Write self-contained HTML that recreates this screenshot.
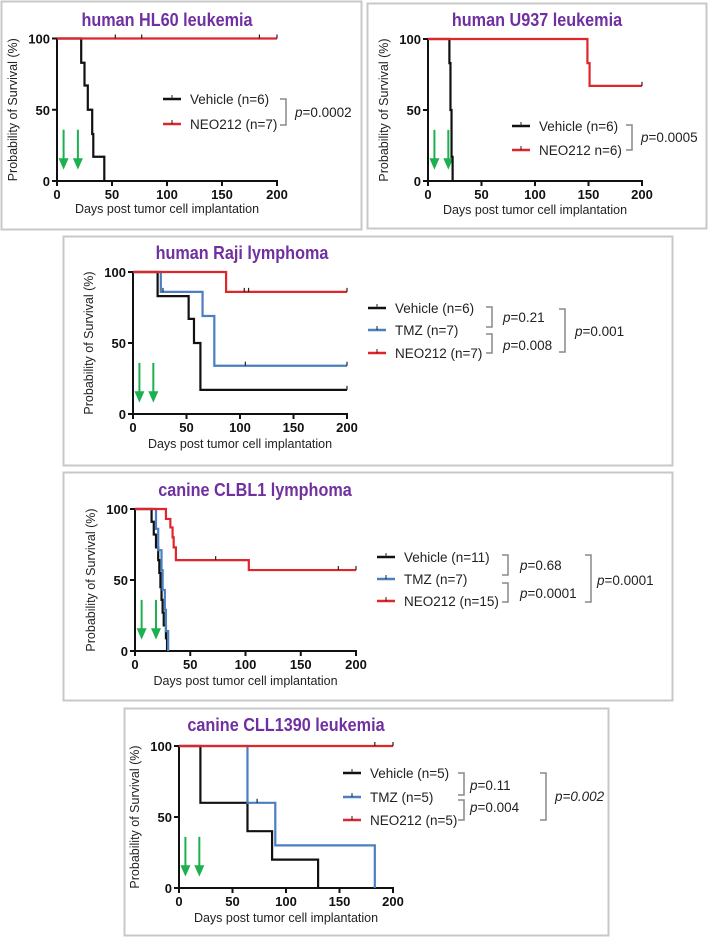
<!DOCTYPE html>
<html><head><meta charset="utf-8">
<style>
html,body{margin:0;padding:0;background:#fff;}
svg{display:block;font-family:"Liberation Sans",Arial,sans-serif;}
</style></head>
<body>
<svg id="fig" width="709" height="937" viewBox="0 0 709 937" xmlns="http://www.w3.org/2000/svg"></svg>
<script>
// ---- data (days, survival %) ----
const hl60Vehicle = [[0,100],[22,83],[25,67],[28,50],[32,33],[33,17],[43,0]];
const hl60Neo = [[0,100],[200,100]];
const hl60NeoCensor = [[53,100],[77,100],[184,100],[200,100]];
const hl60VehicleCensor = [];

const u937Vehicle = [[0,100],[20,83],[21,50],[22,17],[23,0]];
const u937Neo = [[0,100],[149,83],[151,67],[200,67]];
const u937NeoCensor = [[200,67]];

const rajiVehicle = [[0,100],[23,83],[52,67],[57,50],[63,17],[200,17]];
const rajiVehicleCensor = [[200,17]];
const rajiTmz = [[0,100],[26,86],[65,69],[76,34],[200,34]];
const rajiTmzCensor = [[28,86],[105,34],[200,34]];
const rajiNeo = [[0,100],[87,86],[200,86]];
const rajiNeoCensor = [[104,86],[108,86],[200,86]];

const clblVehicle = [[0,100],[15,91],[17,82],[19,73],[21,64],[22,55],[23,45],[24,36],[25,27],[26,18],[28,9],[29,0]];
const clblTmz = [[0,100],[19,86],[21,71],[24,57],[25,43],[27,29],[28,14],[30,0]];
const clblNeo = [[0,100],[28,93],[32,87],[34,80],[35,73],[37,64],[103,57],[200,57]];
const clblNeoCensor = [[73,64],[184,57],[200,57]];

const cllVehicle = [[0,100],[20,60],[64,40],[87,20],[130,0]];
const cllTmz = [[0,100],[64,60],[90,30],[183,0]];
const cllTmzCensor = [[73,60]];
const cllNeo = [[0,100],[200,100]];
const cllNeoCensor = [[183,100],[200,100]];

const arrowDays = [6, 19];
const xTicks = [0,50,100,150,200];
const yTicks = [0,50,100];

const BLACK='#111', BLUE='#4a7fc1', RED='#e0262b', GREEN='#1db04f', PURPLE='#7030a0';
const NS='http://www.w3.org/2000/svg';
const svg=document.getElementById('fig');
function mk(tag,attrs,parent,text){const e=document.createElementNS(NS,tag);for(const k in attrs)e.setAttribute(k,attrs[k]);if(text!==undefined)e.textContent=text;(parent||svg).appendChild(e);return e;}

function panel(p){
  const g=mk('g',{});
  
  
  const box=mk('rect',{x:p.box[0]+0.5,y:p.box[1]+0.5,width:p.box[2],height:p.box[3],fill:'none',stroke:'#c8c8c8','stroke-width':2},g);
  
  
  const sx=d=>p.x0+(p.x1-p.x0)*d/200;
  const sy=v=>p.y0+(p.y1-p.y0)*v/100;
  const t=mk('text',{x:p.titleX,y:p.titleY,'text-anchor':'middle','font-size':18,'font-weight':'bold',fill:PURPLE},g,p.title);
  
  
  try{const w=t.getComputedTextLength();if(w>0){t.setAttribute('textLength',(w*0.9).toFixed(1));t.setAttribute('lengthAdjust','spacingAndGlyphs');}}catch(e){}
  // axes
  const ax=mk('g',{stroke:'#111','stroke-width':2,fill:'none'},g);
  
  
  mk('line',{x1:p.x0,y1:sy(100),x2:p.x0,y2:p.y0+1},ax);
  mk('line',{x1:p.x0-1,y1:p.y0,x2:sx(200)+1,y2:p.y0},ax);
  xTicks.forEach(v=>{
    mk('line',{x1:sx(v),y1:p.y0,x2:sx(v),y2:p.y0+5},ax);
    const l=mk('text',{x:sx(v),y:p.y0+18,'text-anchor':'middle','font-size':13,'font-weight':'bold',fill:'#111',stroke:'none'},g,String(v));
    
    
  });
  yTicks.forEach(v=>{
    mk('line',{x1:p.x0-5,y1:sy(v),x2:p.x0,y2:sy(v)},ax);
    const l=mk('text',{x:p.x0-7,y:sy(v)+5,'text-anchor':'end','font-size':13,'font-weight':'bold',fill:'#111'},g,String(v));
    
    
  });
  const xl=mk('text',{x:(p.x0+sx(200))/2,y:p.xlabelY,'text-anchor':'middle','font-size':12.5,fill:'#222'},g,'Days post tumor cell implantation');
  
  
  const ycx=p.x0-40, ycy=(sy(0)+sy(100))/2;
  const yl=mk('text',{x:ycx,y:ycy,'text-anchor':'middle','font-size':12.5,fill:'#222',transform:`rotate(-90 ${ycx} ${ycy})`},g,'Probability of Survival (%)');
  
  
  // arrows
  arrowDays.forEach(d=>{
    const a=mk('g',{},g);
    
    
    mk('line',{x1:sx(d),y1:sy(36),x2:sx(d),y2:sy(14),stroke:GREEN,'stroke-width':2},a);
    mk('polygon',{points:`${sx(d)-5},${sy(16)} ${sx(d)+5},${sy(16)} ${sx(d)},${sy(8)}`,fill:GREEN},a);
  });
  // series
  p.series.forEach(s=>{
    let d='';
    s.pts.forEach((pt,i)=>{
      if(i===0){d+=`M${sx(pt[0])},${sy(pt[1])}`;}
      else{d+=` H${sx(pt[0])} V${sy(pt[1])}`;}
    });
    const path=mk('path',{d:d,fill:'none',stroke:s.color,'stroke-width':2.2},g);
    
    
    (s.censor||[]).forEach(c=>{
      const cm=mk('line',{x1:sx(c[0]),y1:sy(c[1])-4,x2:sx(c[0]),y2:sy(c[1]),stroke:'#222','stroke-width':1.2},g);
      
      
    });
  });
  // legend
  p.legend.forEach(L=>{
    const lg=mk('g',{},g);
    
    
    mk('line',{x1:L.x,y1:L.y,x2:L.x+18,y2:L.y,stroke:L.color,'stroke-width':2.5},lg);
    mk('line',{x1:L.x+9,y1:L.y-4,x2:L.x+9,y2:L.y,stroke:'#222','stroke-width':1},lg);
    mk('text',{x:L.x+27,y:L.y+5,'font-size':13.5,fill:'#222'},lg,L.text);
  });
  p.brackets.forEach(b=>{
    const br=mk('path',{d:`M${b.x},${b.y1} H${b.x+6} V${b.y2} H${b.x}`,fill:'none',stroke:'#888','stroke-width':1.5},g);
    
    
  });
  p.pvals.forEach(v=>{
    const tx=mk('text',{x:v.x,y:v.y+5,'font-size':13.5,fill:'#222'},g);
    
    
    mk('tspan',{'font-style':'italic'},tx,'p');
    mk('tspan',{'font-style':v.italic?'italic':'normal'},tx,'='+v.val);
  });
}

panel({name:'hl60-panel',box:[1,1,360,228],x0:57,x1:277,y0:181,y1:38.5,title:'human HL60 leukemia',titleX:167,titleY:26,xlabelY:213,
  series:[{id:'vehicle',pts:hl60Vehicle,color:BLACK,censor:hl60VehicleCensor},{id:'neo212',pts:hl60Neo,color:RED,censor:hl60NeoCensor}],
  legend:[{x:163,y:99,color:BLACK,text:'Vehicle (n=6)'},{x:163,y:124,color:RED,text:'NEO212 (n=7)'}],
  brackets:[{x:280,y1:99,y2:125}],pvals:[{x:295,y:112,val:'0.0002'}]});

panel({name:'u937-panel',box:[367,3,339,225],x0:428,x1:642,y0:181,y1:39,title:'human U937 leukemia',titleX:537,titleY:26,xlabelY:214,
  series:[{id:'vehicle',pts:u937Vehicle,color:BLACK},{id:'neo212',pts:u937Neo,color:RED,censor:u937NeoCensor}],
  legend:[{x:512,y:126,color:BLACK,text:'Vehicle (n=6)'},{x:512,y:150,color:RED,text:'NEO212 n=6)'}],
  brackets:[{x:626,y1:125,y2:150}],pvals:[{x:641,y:137,val:'0.0005'}]});

panel({name:'raji-panel',box:[63,236,609,229],x0:133,x1:347,y0:414,y1:272,title:'human Raji lymphoma',titleX:242,titleY:259,xlabelY:448,
  series:[{id:'vehicle',pts:rajiVehicle,color:BLACK,censor:rajiVehicleCensor},{id:'tmz',pts:rajiTmz,color:BLUE,censor:rajiTmzCensor},{id:'neo212',pts:rajiNeo,color:RED,censor:rajiNeoCensor}],
  legend:[{x:368,y:308,color:BLACK,text:'Vehicle (n=6)'},{x:368,y:330,color:BLUE,text:'TMZ (n=7)'},{x:368,y:353,color:RED,text:'NEO212 (n=7)'}],
  brackets:[{x:486,y1:307,y2:327},{x:486,y1:334,y2:353},{x:559,y1:309,y2:352}],
  pvals:[{x:503,y:317,val:'0.21'},{x:503,y:345,val:'0.008'},{x:575,y:331,val:'0.001'}]});

panel({name:'clbl1-panel',box:[63,472,609,228],x0:135,x1:356,y0:651,y1:509,title:'canine CLBL1 lymphoma',titleX:255,titleY:496,xlabelY:685,
  series:[{id:'vehicle',pts:clblVehicle,color:BLACK},{id:'tmz',pts:clblTmz,color:BLUE},{id:'neo212',pts:clblNeo,color:RED,censor:clblNeoCensor}],
  legend:[{x:377,y:557,color:BLACK,text:'Vehicle (n=11)'},{x:377,y:579,color:BLUE,text:'TMZ (n=7)'},{x:377,y:601,color:RED,text:'NEO212 (n=15)'}],
  brackets:[{x:502,y1:555,y2:575},{x:502,y1:583,y2:602},{x:585,y1:555,y2:602}],
  pvals:[{x:520,y:565,val:'0.68'},{x:520,y:593,val:'0.0001'},{x:597,y:580,val:'0.0001'}]});

panel({name:'cll1390-panel',box:[124,708,484,227],x0:179,x1:393,y0:888,y1:746,title:'canine CLL1390 leukemia',titleX:286,titleY:731,xlabelY:922,
  series:[{id:'vehicle',pts:cllVehicle,color:BLACK},{id:'tmz',pts:cllTmz,color:BLUE,censor:cllTmzCensor},{id:'neo212',pts:cllNeo,color:RED,censor:cllNeoCensor}],
  legend:[{x:343,y:773,color:BLACK,text:'Vehicle (n=5)'},{x:343,y:797,color:BLUE,text:'TMZ (n=5)'},{x:343,y:820,color:RED,text:'NEO212 (n=5)'}],
  brackets:[{x:458,y1:773,y2:795},{x:458,y1:800,y2:820},{x:540,y1:773,y2:820}],
  pvals:[{x:470,y:785,val:'0.11'},{x:470,y:807,val:'0.004'},{x:555,y:796,val:'0.002',italic:true}]});
</script>
</body></html>
